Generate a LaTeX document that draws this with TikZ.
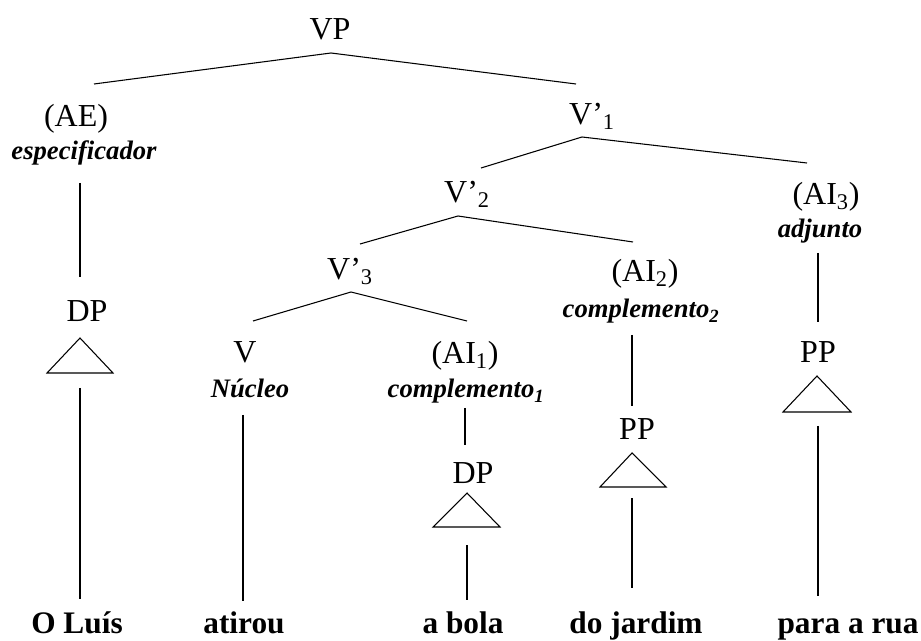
\documentclass[tikz,border=0pt]{standalone}
\usepackage{fontspec}
\setmainfont{Liberation Serif}
\begin{document}
\begin{tikzpicture}[x=0.75pt,y=-0.75pt,
  lbl/.style={font=\fontsize{24}{28}\selectfont, inner sep=0pt, anchor=base},
  role/.style={font=\fontsize{20}{24}\selectfont\bfseries\itshape, inner sep=0pt, anchor=base},
  word/.style={font=\fontsize{23.5}{28}\selectfont\bfseries, inner sep=0pt, anchor=base},
  branch/.style={line width=0.8pt},
  roof/.style={line width=0.8pt, line join=miter},
]
\useasboundingbox (0,0) rectangle (921,641);

% category labels
\node[lbl] (vp)   at (330,40)  {VP};
\node[lbl] (ae)   at (76,127)  {(AE)};
\node[lbl] (v1)   at (592,125) {V’\textsubscript{1}};
\node[lbl] (v2)   at (467,203) {V’\textsubscript{2}};
\node[lbl] (ai3)  at (826,205) {(AI\textsubscript{3})};
\node[lbl] (v3)   at (350,280) {V’\textsubscript{3}};
\node[lbl] (ai2)  at (645,282) {(AI\textsubscript{2})};
\node[lbl] (dpa)  at (87,322)  {DP};
\node[lbl] (v)    at (245,363) {V};
\node[lbl] (ai1)  at (465,364) {(AI\textsubscript{1})};
\node[lbl] (ppc)  at (818,363) {PP};
\node[lbl] (ppb)  at (637,440) {PP};
\node[lbl] (dpb)  at (473,483) {DP};

% functional roles
\node[role] (spec)  at (84,160)  {especificador};
\node[role] (adj)   at (820,238) {adjunto};
\node[role] (compb) at (641,318) {complemento\textsubscript{2}};
\node[role] (nuc)   at (250,398) {Núcleo};
\node[role] (compa) at (466,398) {complemento\textsubscript{1}};

% terminal words
\node[word] (w1) at (77,633)  {O Luís};
\node[word] (w2) at (244,633) {atirou};
\node[word] (w3) at (463,633) {a bola};
\node[word] (w4) at (636,633) {do jardim};
\node[word] (w5) at (848,633) {para a rua};

% branch end points
\coordinate (vpT)  at (331,53);  \coordinate (vpL) at (94,84);   \coordinate (vpR) at (576,84);
\coordinate (v1T)  at (582,137); \coordinate (v1L) at (481,168); \coordinate (v1R) at (807,163);
\coordinate (v2T)  at (458,216); \coordinate (v2L) at (360,244); \coordinate (v2R) at (633,242);
\coordinate (v3T)  at (351,292); \coordinate (v3L) at (253,321); \coordinate (v3R) at (467,321);

% unary stems
\coordinate (aeS)  at (80,183);  \coordinate (aeE)  at (80,277);
\coordinate (ai3S) at (818,253); \coordinate (ai3E) at (818,322);
\coordinate (ai2S) at (632,335); \coordinate (ai2E) at (632,406);
\coordinate (ai1S) at (465,408); \coordinate (ai1E) at (465,445);
\coordinate (vS)   at (243,415); \coordinate (vE)   at (243,601);

% roofs
\coordinate (dpaT) at (80,338);  \coordinate (dpaL) at (47,373);  \coordinate (dpaR) at (113,373);
\coordinate (dpbT) at (467,493); \coordinate (dpbL) at (433,527); \coordinate (dpbR) at (500,527);
\coordinate (ppbT) at (632,453); \coordinate (ppbL) at (600,487); \coordinate (ppbR) at (666,487);
\coordinate (ppcT) at (817,376); \coordinate (ppcL) at (783,412); \coordinate (ppcR) at (851,412);

% stems below roofs
\coordinate (dpaS) at (80,388);  \coordinate (dpaE) at (80,599);
\coordinate (dpbS) at (467,545); \coordinate (dpbE) at (467,600);
\coordinate (ppbS) at (632,498); \coordinate (ppbE) at (632,588);
\coordinate (ppcS) at (818,426); \coordinate (ppcE) at (818,596);

% binary branches
\draw[branch] (vpL) -- (vpT) -- (vpR);
\draw[branch] (v1L) -- (v1T) -- (v1R);
\draw[branch] (v2L) -- (v2T) -- (v2R);
\draw[branch] (v3L) -- (v3T) -- (v3R);

% unary branches
\draw[branch] (aeS) -- (aeE);
\draw[branch] (ai3S) -- (ai3E);
\draw[branch] (ai2S) -- (ai2E);
\draw[branch] (ai1S) -- (ai1E);
\draw[branch] (vS) -- (vE);

% triangles
\draw[roof] (dpaT) -- (dpaL) -- (dpaR) -- cycle;
\draw[roof] (dpbT) -- (dpbL) -- (dpbR) -- cycle;
\draw[roof] (ppbT) -- (ppbL) -- (ppbR) -- cycle;
\draw[roof] (ppcT) -- (ppcL) -- (ppcR) -- cycle;

% lines down to the words
\draw[branch] (dpaS) -- (dpaE);
\draw[branch] (dpbS) -- (dpbE);
\draw[branch] (ppbS) -- (ppbE);
\draw[branch] (ppcS) -- (ppcE);
\end{tikzpicture}
\end{document}
